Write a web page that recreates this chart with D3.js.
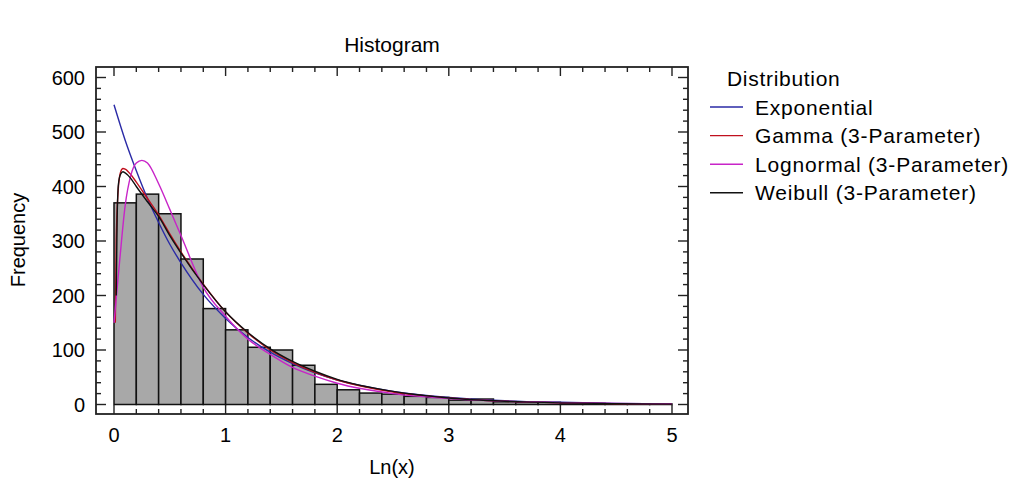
<!DOCTYPE html>
<html>
<head>
<meta charset="utf-8">
<script src="https://cdn.jsdelivr.net/npm/d3@7"></script>
<style>
  body { margin: 0; background: #fff; }
  text { font-family: "Liberation Sans", Arial, sans-serif; fill: #000; }
</style>
</head>
<body>
<div id="chart-area"></div>
<script>
// histogram bins (lower edge) and counts
let binLo = [0, 0.2, 0.4, 0.6, 0.8, 1.0, 1.2, 1.4, 1.6, 1.8, 2.0, 2.2, 2.4, 2.6, 2.8, 3.0, 3.2, 3.4, 3.6, 3.8, 4.0, 4.2, 4.4, 4.6, 4.8];
let counts = [370, 386, 350, 267, 176, 137, 105, 100, 72, 37, 27, 21, 19, 15, 13, 8, 10, 5, 4, 4, 2, 2, 1, 1, 1];
let binWidth = 0.2;

// fitted curves
let expX = [0, 0.1, 0.2, 0.3, 0.4, 0.5, 0.6, 0.8, 1.0, 1.2, 1.4, 1.6, 1.8, 2.0, 2.25, 2.5, 3.0, 3.5, 4.0, 4.5, 5.0];
let expY = [550, 485, 429, 378, 334, 294, 260, 202, 158, 123, 96, 75, 58, 45, 33, 24, 13, 7, 4, 2, 1];

let gamX = [0.012, 0.02, 0.04, 0.06, 0.08, 0.1, 0.15, 0.2, 0.3, 0.4, 0.5, 0.6, 0.8, 1.0, 1.2, 1.4, 1.6, 1.8, 2.0, 2.5, 3.0, 3.5, 4.0, 4.5, 5.0];
let gamY = [150, 300, 400, 427, 433, 432, 422, 408, 378, 348, 313, 280, 221, 170, 131, 100, 77, 59, 45, 23, 12, 6, 3, 1.5, 0.7];

let logX = [0, 0.05, 0.1, 0.15, 0.2, 0.25, 0.3, 0.4, 0.5, 0.6, 0.8, 1.0, 1.2, 1.4, 1.6, 1.8, 2.0, 2.5, 3.0, 3.5, 4.0, 4.5, 5.0];
let logY = [150, 262, 365, 420, 443, 448, 443, 405, 358, 310, 215, 162, 120, 92, 68, 52, 39, 20, 11, 6, 3.5, 2, 1.2];

let weiX = [0.02, 0.028, 0.04, 0.06, 0.08, 0.1, 0.15, 0.2, 0.3, 0.4, 0.5, 0.6, 0.8, 1.0, 1.2, 1.4, 1.6, 1.8, 2.0, 2.5, 3.0, 3.5, 4.0, 4.5, 5.0];
let weiY = [200, 340, 405, 423, 427, 425, 415, 400, 372, 345, 310, 278, 220, 170, 132, 102, 79, 61, 46, 24, 12, 6, 3, 1.5, 0.7];

let seriesNames = ["Exponential", "Gamma (3-Parameter)", "Lognormal (3-Parameter)", "Weibull (3-Parameter)"];
let seriesColors = ["#2a2aa6", "#c0101e", "#c824c8", "#111111"];

let xTicks = [0, 1, 2, 3, 4, 5];
let yTicks = [0, 100, 200, 300, 400, 500, 600];

// define drawing area
let W = 1013, H = 479;
let plot = {left: 96, right: 688, top: 67, bottom: 414};

let svg = d3.select("#chart-area")
  .append("svg")
    .attr("width", W)
    .attr("height", H);

// scales
let x = d3.scaleLinear().domain([0, 5]).range([114, 672]);
let y = d3.scaleLinear().domain([0, 600]).range([404.5, 77.5]);

// bars
svg.selectAll("rect.bar")
  .data(counts)
  .enter().append("rect")
    .attr("class", "bar")
    .attr("x", (d, i) => x(binLo[i]))
    .attr("y", d => y(d))
    .attr("width", (d, i) => x(binLo[i] + binWidth) - x(binLo[i]))
    .attr("height", d => y(0) - y(d))
    .attr("fill", "#a8a8a8")
    .attr("stroke", "#111")
    .attr("stroke-width", 1.5);

// curves
let line = d3.line()
  .x(d => x(d[0]))
  .y(d => y(d[1]))
  .curve(d3.curveMonotoneX);

let curves = [
  d3.zip(expX, expY),
  d3.zip(gamX, gamY),
  d3.zip(logX, logY),
  d3.zip(weiX, weiY)
];

svg.selectAll("path.fit")
  .data(curves)
  .enter().append("path")
    .attr("class", "fit")
    .attr("d", line)
    .attr("fill", "none")
    .attr("stroke", (d, i) => seriesColors[i])
    .attr("stroke-width", 1.4);

// frame
svg.append("rect")
  .attr("x", plot.left)
  .attr("y", plot.top)
  .attr("width", plot.right - plot.left)
  .attr("height", plot.bottom - plot.top)
  .attr("fill", "none")
  .attr("stroke", "#222")
  .attr("stroke-width", 1.8);

// inward ticks on all four sides
let xMinor = d3.range(0, 26).map(i => i * 0.2);
let yMinor = d3.range(0, 31).map(i => i * 20);

let tk = svg.append("g").attr("stroke", "#222").attr("stroke-width", 1.4);
xMinor.forEach(v => {
  let major = Math.abs(v - Math.round(v)) < 1e-6;
  let len = major ? 9 : 5;
  tk.append("line").attr("x1", x(v)).attr("x2", x(v)).attr("y1", plot.bottom).attr("y2", plot.bottom - len);
  tk.append("line").attr("x1", x(v)).attr("x2", x(v)).attr("y1", plot.top).attr("y2", plot.top + len);
});
yMinor.forEach(v => {
  let major = v % 100 === 0;
  let len = major ? 10 : 5;
  tk.append("line").attr("y1", y(v)).attr("y2", y(v)).attr("x1", plot.left).attr("x2", plot.left + len);
  tk.append("line").attr("y1", y(v)).attr("y2", y(v)).attr("x1", plot.right).attr("x2", plot.right - len);
});

// tick labels
svg.selectAll("text.xtick")
  .data(xTicks)
  .enter().append("text")
    .attr("class", "xtick")
    .attr("x", d => x(d))
    .attr("y", 442)
    .attr("text-anchor", "middle")
    .style("font-size", "20px")
    .text(d => d);

svg.selectAll("text.ytick")
  .data(yTicks)
  .enter().append("text")
    .attr("class", "ytick")
    .attr("x", 85)
    .attr("y", d => y(d) + 7)
    .attr("text-anchor", "end")
    .style("font-size", "20px")
    .text(d => d);

// title and axis labels
svg.append("text")
  .attr("x", 392)
  .attr("y", 52)
  .attr("text-anchor", "middle")
  .style("font-size", "21px")
  .text("Histogram");

svg.append("text")
  .attr("x", 392)
  .attr("y", 474)
  .attr("text-anchor", "middle")
  .style("font-size", "20px")
  .text("Ln(x)");

svg.append("text")
  .attr("transform", "translate(25,240) rotate(-90)")
  .attr("text-anchor", "middle")
  .style("font-size", "20px")
  .text("Frequency");

// legend
let legend = svg.append("g");
legend.append("text")
  .attr("x", 727)
  .attr("y", 86)
  .style("font-size", "21px")
  .style("letter-spacing", "0.7px")
  .text("Distribution");

seriesNames.forEach((name, i) => {
  let ly = 107 + i * 28.6;
  legend.append("line")
    .attr("x1", 710).attr("x2", 743)
    .attr("y1", ly).attr("y2", ly)
    .attr("stroke", seriesColors[i])
    .attr("stroke-width", 1.4);
  legend.append("text")
    .attr("x", 755)
    .attr("y", ly + 7.5)
    .style("font-size", "21px")
    .style("letter-spacing", "0.8px")
    .text(name);
});
</script>
</body>
</html>
